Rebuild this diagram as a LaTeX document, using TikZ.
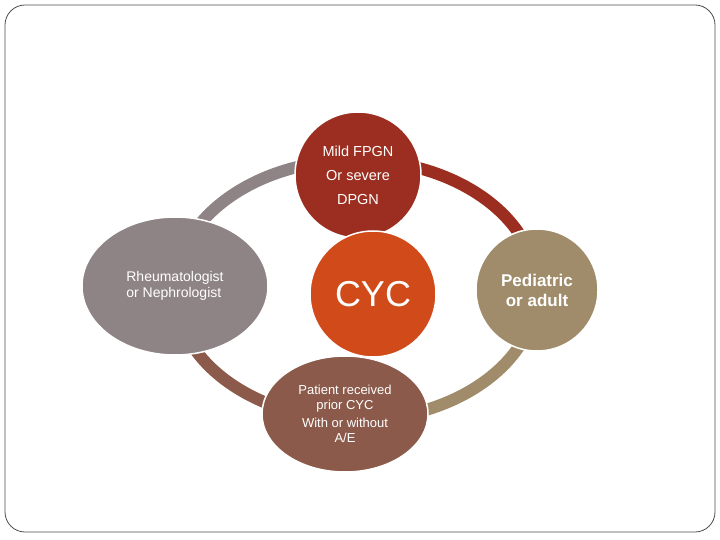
\documentclass[tikz,border=0pt]{standalone}
\usepackage{fontspec}
\setmainfont{Liberation Sans}
\usetikzlibrary{shapes.geometric,calc}
\definecolor{cgray}{HTML}{8E8486}
\definecolor{cred}{HTML}{9B2E20}
\definecolor{corange}{HTML}{D04A1A}
\definecolor{ctan}{HTML}{A08C6A}
\definecolor{cbrown}{HTML}{8B5A4A}
\begin{document}
\begin{tikzpicture}[x=1pt,y=1pt,
  ringarc/.style={line width=12pt},
  blob/.style={ellipse,draw=white,line width=1.5pt,text=white,inner sep=0pt,align=center}]
\useasboundingbox (0,0) rectangle (720,-540);
\draw[line width=0.8pt,black!70,rounded corners=20pt] (5,-5) rectangle (715,-532);
\coordinate (rc) at (356,-290);
\draw[ringarc,cgray] ($(rc)+(0,130)$) arc[start angle=90,end angle=180,x radius=181,y radius=130];
\draw[ringarc,cred] ($(rc)+(181,0)$) arc[start angle=0,end angle=90,x radius=181,y radius=130];
\draw[ringarc,ctan] ($(rc)+(0,-130)$) arc[start angle=270,end angle=360,x radius=181,y radius=130];
\draw[ringarc,cbrown] ($(rc)+(-181,0)$) arc[start angle=180,end angle=270,x radius=181,y radius=130];
\node[blob,fill=cgray,minimum width=186pt,minimum height=138pt,font=\fontsize{14}{16}\selectfont,align=left] (rheu) at (175,-286) {Rheumatologist\\or Nephrologist};
\node[blob,fill=ctan,minimum width=122pt,minimum height=122pt,font=\bfseries\fontsize{17}{20}\selectfont] (ped) at (537,-290) {Pediatric\\or adult};
\node[blob,fill=cred,minimum width=126pt,minimum height=126pt,font=\fontsize{14.5}{24}\selectfont] (mild) at (358,-175) {Mild FPGN\\Or severe\\DPGN};
\node[blob,fill=corange,minimum width=126pt,minimum height=126pt,font=\fontsize{36}{40}\selectfont] (cyc) at (373,-294) {CYC};
\node[blob,fill=cbrown,minimum width=166pt,minimum height=116pt,font=\fontsize{13}{15}\selectfont] (pat) at (345,-414) {Patient received\\prior CYC\\[3pt]With or without\\A/E};
\end{tikzpicture}
\end{document}
